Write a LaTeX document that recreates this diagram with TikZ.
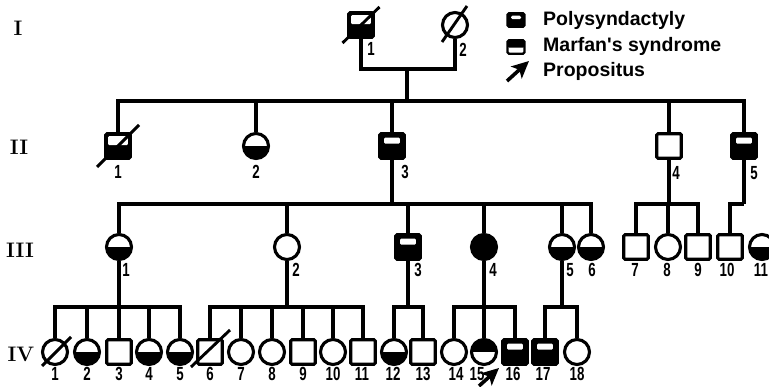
\documentclass[tikz,border=0pt]{standalone}
\usepackage{fontspec}
\newfontfamily\legfont{Liberation Sans}
\newfontfamily\numfont[FakeStretch=0.7]{Liberation Sans}
\usetikzlibrary{arrows.meta}
\begin{document}
\begin{tikzpicture}[x=1pt,y=-1pt,
  sq/.style={rectangle,draw,line width=3.1pt,minimum width=24.5pt,minimum height=24.5pt,inner sep=0pt,rounded corners=1.2pt,fill=white},
  ci/.style={circle,draw,line width=3.1pt,minimum size=25pt,inner sep=0pt,fill=white},
  halfbot/.style={path picture={\fill[black] (path picture bounding box.west) rectangle (path picture bounding box.south east);}},
  halftop/.style={path picture={\fill[black] (path picture bounding box.north west) rectangle (path picture bounding box.east);}},
  full/.style={fill=black},
  band/.style={fill=black,path picture={\fill[white] ([shift={(4.4pt,-3.8pt)}]path picture bounding box.north west) rectangle ([shift={(-4.4pt,-10pt)}]path picture bounding box.north east);}},
  topwhite/.style={fill=black,path picture={\fill[white] ([shift={(2.4pt,-2.4pt)}]path picture bounding box.north west) rectangle ([shift={(-2.4pt,-11.5pt)}]path picture bounding box.north east);}},
  link/.style={line width=3.1pt},
  slash/.style={line width=2.9pt},
  num/.style={font=\numfont\bfseries\fontsize{19}{19}\selectfont,inner sep=0pt},
  gen/.style={font=\bfseries\fontsize{21}{21}\selectfont,inner sep=0pt},
  legtext/.style={font=\legfont\bfseries\fontsize{19.5}{19.5}\selectfont,inner sep=0pt,anchor=west},
  legsq/.style={rectangle,draw,line width=2.4pt,minimum width=17pt,minimum height=13.5pt,inner sep=0pt,rounded corners=1.5pt},
  propo/.style={line width=3.6pt,-{Stealth[length=17pt,width=16pt,inset=4pt]}}
]
\useasboundingbox (0,0) rectangle (769,387);

% generation labels
\node[gen] (gI) at (18,28) {I};
\node[gen] (gII) at (19,147) {II};
\node[gen] (gIII) at (20,250) {III};
\node[gen] (gIV) at (21,354) {IV};

% legend
\node[legsq,fill=black,path picture={\fill[white] ([shift={(3.5pt,-2.4pt)}]path picture bounding box.north west) rectangle ([shift={(-3.5pt,-6pt)}]path picture bounding box.north east);}] (L1) at (516,20) {};
\node[legsq,fill=white,path picture={\fill[black] (path picture bounding box.north west) rectangle ([shift={(0pt,-7.5pt)}]path picture bounding box.north east);}] (L2) at (516,47) {};
\coordinate (La) at (507,81);
\coordinate (Lb) at (529,61);
\draw[propo] (La) -- (Lb);
\node[legtext] (T1) at (543,20) {Polysyndactyly};
\node[legtext] (T2) at (543,46) {Marfan's syndrome};
\node[legtext] (T3) at (543,71) {Propositus};

% Generation I
\node[sq,topwhite] (I1) at (361,25) {};
\node[ci] (I2) at (455,25) {};
\draw[slash] ([shift={(-18.5pt,-18pt)}]I1.center) -- ([shift={(18.5pt,18pt)}]I1.center);
\draw[slash] ([shift={(-13pt,-17pt)}]I2.center) -- ([shift={(12pt,19pt)}]I2.center);
\node[num] (nI1) at (371,49) {1};
\node[num] (nI2) at (463,50) {2};

% Generation II
\node[sq,topwhite] (II1) at (118,146) {};
\node[ci,halfbot] (II2) at (256,146) {};
\node[sq,band] (II3) at (392,146) {};
\node[sq] (II4) at (669,146) {};
\node[sq,band] (II5) at (744,146) {};
\draw[slash] ([shift={(-21pt,-21pt)}]II1.center) -- ([shift={(21pt,21pt)}]II1.center);
\node[num] (nII1) at (118,172) {1};
\node[num] (nII2) at (256,172) {2};
\node[num] (nII3) at (405,172) {3};
\node[num] (nII4) at (676,173) {4};
\node[num] (nII5) at (754,173) {5};

% Generation III
\node[ci,halfbot] (III1) at (119,247) {};
\node[ci] (III2) at (287,247) {};
\node[sq,band] (III3) at (408,247) {};
\node[ci,full] (III4) at (484,247) {};
\node[ci,halfbot] (III5) at (562,247) {};
\node[ci,halfbot] (III6) at (591,247) {};
\node[sq] (III7) at (636,247) {};
\node[ci] (III8) at (668,247) {};
\node[sq] (III9) at (698,247) {};
\node[sq] (III10) at (730,247) {};
\node[ci,halfbot] (III11) at (762,247) {};
\node[num] (nIII1) at (126,270) {1};
\node[num] (nIII2) at (296,270) {2};
\node[num] (nIII3) at (418,270) {3};
\node[num] (nIII4) at (493,270) {4};
\node[num] (nIII5) at (570,270) {5};
\node[num] (nIII6) at (592,270) {6};
\node[num] (nIII7) at (635,270) {7};
\node[num] (nIII8) at (667,270) {8};
\node[num] (nIII9) at (698,270) {9};
\node[num] (nIII10) at (727,270) {10};
\node[num] (nIII11) at (761,270) {11};

% Generation IV
\node[ci] (IV1) at (55,352) {};
\node[ci,halfbot] (IV2) at (87,352) {};
\node[sq] (IV3) at (119,352) {};
\node[ci,halfbot] (IV4) at (149,352) {};
\node[ci,halfbot] (IV5) at (180,352) {};
\node[sq] (IV6) at (210,352) {};
\node[ci] (IV7) at (241,352) {};
\node[ci] (IV8) at (272,352) {};
\node[sq] (IV9) at (303,352) {};
\node[ci] (IV10) at (333,352) {};
\node[sq] (IV11) at (363,352) {};
\node[ci,halfbot] (IV12) at (394,352) {};
\node[sq] (IV13) at (423,352) {};
\node[ci] (IV14) at (454,352) {};
\node[ci,halftop] (IV15) at (484,352) {};
\node[sq,band] (IV16) at (515,352) {};
\node[sq,band] (IV17) at (545,352) {};
\node[ci] (IV18) at (577,352) {};
\draw[slash] ([shift={(-13pt,-14pt)}]IV1.center) -- ([shift={(16pt,15pt)}]IV1.center);
\draw[slash] ([shift={(-19pt,-15pt)}]IV6.center) -- ([shift={(20pt,22pt)}]IV6.center);
\foreach \k/\x in {1/55,2/87,3/119,4/149,5/180,6/210,7/241,8/272,9/303,10/333,11/362,12/393,13/423,14/456,15/477,16/513,17/543,18/577}
  \node[num] (nIV\k) at (\x,374) {\k};
\coordinate (Pa) at (479,386);
\coordinate (Pb) at (499,368);
\draw[propo] (Pa) -- (Pb);

% connectors
\coordinate (m1) at (407,69);
\coordinate (s1) at (407,101);
\coordinate (s3) at (392,204);
\coordinate (s4) at (669,204);
\coordinate (s5) at (744,204);
\coordinate (s6) at (119,307);
\coordinate (s7) at (287,307);
\coordinate (s8) at (408,307);
\coordinate (s9) at (484,307);
\coordinate (s10) at (562,307);

\draw[link] (I1.south) |- (m1) -| (I2.south);
\draw[link] (m1) -- (s1);
\draw[link] (II1.north) |- (s1) -| (II5.north);
\foreach \n in {II2,II3,II4} \draw[link] (\n.north) -- (\n.north |- s1);

\draw[link] (II3.south) -- (s3);
\draw[link] (III1.north) |- (s3) -| (III6.north);
\foreach \n in {III2,III3,III4,III5} \draw[link] (\n.north) -- (\n.north |- s3);
\draw[link] (II4.south) -- (s4);
\draw[link] (III7.north) |- (s4) -| (III9.north);
\draw[link] (III8.north) -- (III8.north |- s4);
\draw[link] (II5.south) -- (s5);
\draw[link] (III10.north) |- (s5);

\draw[link] (III1.south) -- (s6);
\draw[link] (IV1.north) |- (s6) -| (IV5.north);
\foreach \n in {IV2,IV3,IV4} \draw[link] (\n.north) -- (\n.north |- s6);
\draw[link] (III2.south) -- (s7);
\draw[link] (IV6.north) |- (s7) -| (IV11.north);
\foreach \n in {IV7,IV8,IV9,IV10} \draw[link] (\n.north) -- (\n.north |- s7);
\draw[link] (III3.south) -- (s8);
\draw[link] (IV12.north) |- (s8) -| (IV13.north);
\draw[link] (III4.south) -- (s9);
\draw[link] (IV14.north) |- (s9) -| (IV16.north);
\draw[link] (IV15.north) -- (IV15.north |- s9);
\draw[link] (III5.south) -- (s10);
\draw[link] (IV17.north) |- (s10) -| (IV18.north);
\end{tikzpicture}
\end{document}
